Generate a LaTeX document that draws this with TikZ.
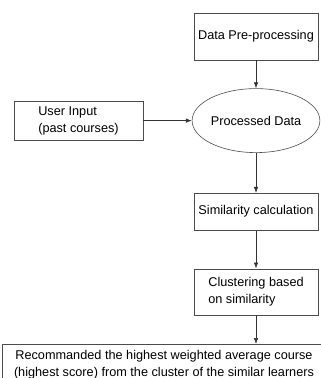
\documentclass[tikz,border=0pt]{standalone}
\usepackage{fontspec}
\setmainfont{Liberation Sans}
\usepackage{tikz}
\usetikzlibrary{positioning,shapes,arrows.meta}
\usepackage{xcolor}
\tikzset{
  flow/.style={-{Latex[length=6pt,width=4.5pt]}, draw, black!80, line width=0.6pt},
}

\begin{document}
\begin{tikzpicture}[x=1pt,y=1pt,
            stage/.style={rectangle,draw=black!70,line width=0.6pt,minimum width=124pt,inner sep=2pt},
            blob/.style={ellipse,draw=black!70,line width=0.6pt,minimum width=127pt,minimum height=64pt,inner sep=0pt},
            font=\fontsize{12.7}{17}\selectfont]
            \useasboundingbox (0,0) rectangle (321,-378);
            \clip (0,0) rectangle (321,-378);

            \node[stage, minimum height=47pt] (prep) at (256,-36.5) {Data Pre-processing};
            \node[blob, below=28pt of prep] (processed) {Processed Data};
            \node[stage, minimum width=129pt, minimum height=39pt, align=left, left=48.5pt of processed] (user) {User Input\\(past courses)};
            \node[stage, minimum height=37pt, below=40pt of processed] (simcalc) {Similarity calculation};
            \node[stage, minimum height=46pt, align=left, below=38pt of simcalc] (cluster) {Clustering based\\on similarity};
            \node[stage, minimum width=324pt, inner ysep=5.5pt, align=center, anchor=north] (recommend) at (164,-344)
                {Recommanded the highest weighted average course\\(highest score) from the cluster of the similar learners};

            \draw [flow] (prep) to (processed);
            \draw [flow] (user.east) to (user.east -| processed.west);
            \draw [flow] (processed) to (simcalc);
            \draw [flow] (simcalc) to (cluster);
            \draw [flow] (cluster.south) to (cluster.south |- recommend.north);

         \end{tikzpicture}
\end{document}
